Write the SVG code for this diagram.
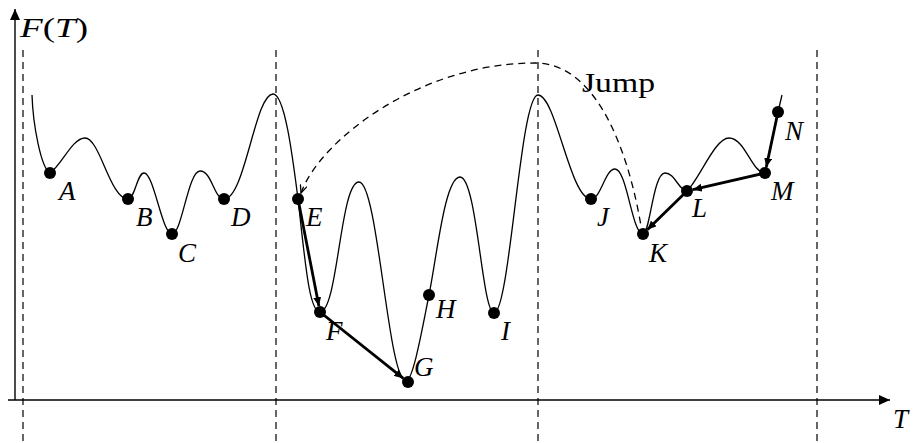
<svg xmlns="http://www.w3.org/2000/svg" width="913" height="443" viewBox="0 0 913 443">
<defs>
<style>
.axis{stroke:#000;stroke-width:1.4;fill:none}
.vd{stroke:#000;stroke-width:1.2;stroke-dasharray:7,5;fill:none}
.curve{stroke:#000;stroke-width:1.3;fill:none}
.move{stroke:#000;stroke-width:2.8;fill:none;marker-end:url(#ah)}
.jump{stroke:#000;stroke-width:1.3;stroke-dasharray:7,5;fill:none;marker-start:url(#jh)}
.dot{fill:#000}
.lbl{font-family:"Liberation Serif",serif;font-style:italic;font-size:27px;fill:#000}
.up{font-family:"Liberation Serif",serif;font-size:28px;fill:#000}
</style>
<marker id="ax" markerUnits="userSpaceOnUse" markerWidth="12" markerHeight="10" refX="11" refY="5" orient="auto">
<path d="M0,0 L11,5 L0,10 Z" fill="#000"/>
</marker>
<marker id="ah" markerUnits="userSpaceOnUse" markerWidth="10" markerHeight="8" refX="9" refY="4" orient="auto">
<path d="M0,0 L9,4 L0,8 Z" fill="#000"/>
</marker>
<marker id="jh" markerUnits="userSpaceOnUse" markerWidth="9" markerHeight="8" refX="8" refY="4" orient="auto-start-reverse">
<path d="M0,0.5 L8,4 L0,7.5" fill="none" stroke="#000" stroke-width="1.3"/>
</marker>
</defs>
<g id="axes">
<line class="axis" x1="15" y1="400" x2="15" y2="9" marker-end="url(#ax)"/>
<line class="axis" x1="8" y1="400" x2="890" y2="400" marker-end="url(#ax)"/>
<text class="lbl" x="20" y="37" textLength="68" lengthAdjust="spacingAndGlyphs">F<tspan font-style="normal">(</tspan>T<tspan font-style="normal">)</tspan></text>
<text class="lbl" x="893" y="428">T</text>
</g>
<g id="dividers">
<line class="vd" x1="23" y1="50" x2="23" y2="443"/>
<line class="vd" x1="276" y1="50" x2="276" y2="443"/>
<line class="vd" x1="538" y1="50" x2="538" y2="443"/>
<line class="vd" x1="817" y1="50" x2="817" y2="443"/>
</g>
<g id="landscape">
<path class="curve" d="M32,95 C33,125 41,168 50,173 C62,165 72,138 85,138 C100,138 110,199 128,199 C135,199 137,173 144,173 C154,173 162,234 172,234 C182,234 188,171 200,171 C212,171 214,199 224,199 C245,199 255,94 273,94 C285,94 293,160 298,199 C305,260 309,312 320,312 C338,312 340,182 359,182 C378,182 388,381 406,381 C413,381 422,330 429,295 C437,255 445,177 460,177 C477,177 482,313 494,313 C510,313 520,95 538,95 C556,95 570,199 591,199 C601,199 605,169 615,169 C627,169 632,234 643,234 C650,234 653,173 665,173 C675,173 679,191 687,191 C700,178 715,138 729,138 C745,138 752,173 765,173 C770,150 774,128 778,112 L782,95"/>
</g>
<g id="connectors">
<path class="jump" d="M301,193 C320,140 420,63 535,63 C600,63 630,160 641,226"/>
<line class="move" x1="298" y1="199" x2="318.9" y2="306.1"/>
<line class="move" x1="320" y1="312" x2="403.3" y2="378.3"/>
<line class="move" x1="687" y1="191" x2="647.3" y2="229.8"/>
<line class="move" x1="765" y1="173" x2="692.8" y2="189.7"/>
<line class="move" x1="778" y1="112" x2="766.3" y2="167.1"/>
<text class="up" x="582" y="92" textLength="73" lengthAdjust="spacingAndGlyphs">Jump</text>
</g>
<g id="A"><circle class="dot" cx="50" cy="173" r="6"/><text class="lbl" x="59" y="200">A</text></g>
<g id="B"><circle class="dot" cx="128" cy="199" r="6"/><text class="lbl" x="136" y="226">B</text></g>
<g id="C"><circle class="dot" cx="172" cy="234" r="6"/><text class="lbl" x="178" y="262">C</text></g>
<g id="D"><circle class="dot" cx="224" cy="199" r="6"/><text class="lbl" x="231" y="226">D</text></g>
<g id="E"><circle class="dot" cx="298" cy="199" r="6"/><text class="lbl" x="306" y="226">E</text></g>
<g id="F"><circle class="dot" cx="320" cy="312" r="6"/><text class="lbl" x="326" y="340">F</text></g>
<g id="G"><circle class="dot" cx="408" cy="382" r="6"/><text class="lbl" x="414" y="376">G</text></g>
<g id="H"><circle class="dot" cx="429" cy="295" r="6"/><text class="lbl" x="436" y="318">H</text></g>
<g id="I"><circle class="dot" cx="494" cy="313" r="6"/><text class="lbl" x="501" y="340">I</text></g>
<g id="J"><circle class="dot" cx="591" cy="199" r="6"/><text class="lbl" x="597" y="226">J</text></g>
<g id="K"><circle class="dot" cx="643" cy="234" r="6"/><text class="lbl" x="649" y="262">K</text></g>
<g id="L"><circle class="dot" cx="687" cy="191" r="6"/><text class="lbl" x="692" y="217">L</text></g>
<g id="M"><circle class="dot" cx="765" cy="173" r="6"/><text class="lbl" x="771" y="200">M</text></g>
<g id="N"><circle class="dot" cx="778" cy="112" r="6"/><text class="lbl" x="785" y="140">N</text></g>
</svg>
